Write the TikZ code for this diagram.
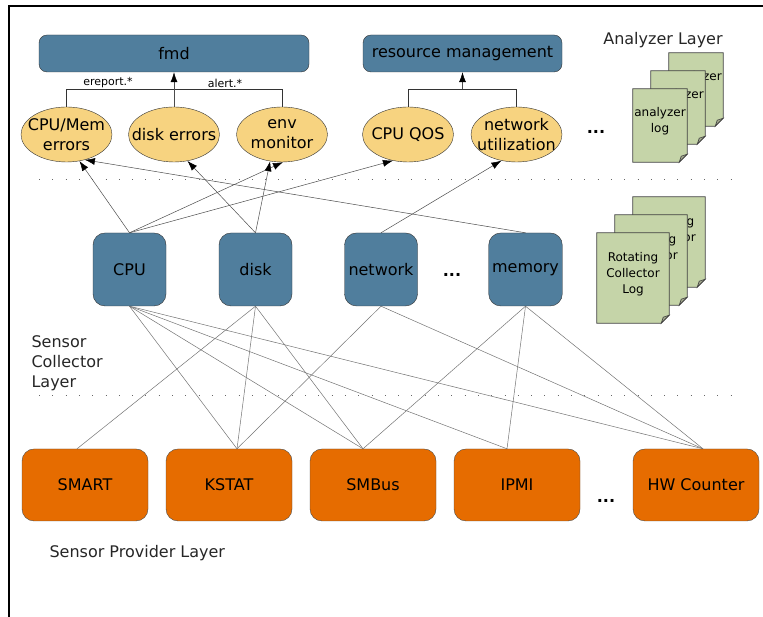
\documentclass[tikz,border=0pt]{standalone}
\usepackage{fontspec}
\setmainfont{DejaVu Sans}
\usepackage{tikz}
\usetikzlibrary{shapes,shapes.geometric}
\usetikzlibrary{arrows.meta}
\definecolor{boxblue}{RGB}{80,126,157}
\definecolor{evtyellow}{RGB}{247,211,128}
\definecolor{provorange}{RGB}{230,108,0}
\definecolor{loggreen}{RGB}{197,212,168}
\definecolor{foldgray}{RGB}{160,165,140}

\tikzset{
  daemon/.style={draw=black!80, fill=boxblue, rounded corners=8pt, minimum height=37pt, inner sep=0pt, font=\fontsize{16}{20}\selectfont},
  event/.style={ellipse, draw=black!80, fill=evtyellow, minimum width=91pt, minimum height=55pt, inner xsep=-14pt, inner ysep=0pt, align=center, font=\fontsize{16}{20}\selectfont},
  collector/.style={draw=black!80, fill=boxblue, rounded corners=12pt, minimum width=73pt, minimum height=73pt, font=\fontsize{16}{20}\selectfont},
  provider/.style={draw=black!70, fill=provorange, rounded corners=12pt, minimum width=126pt, minimum height=72pt, font=\fontsize{16}{20}\selectfont},
  sheet/.style={draw=black!75, fill=loggreen, line width=0.8pt},
  fold/.style={draw=black!75, fill=foldgray, line width=0.6pt},
  sheettext/.style={align=center, font=\fontsize{12}{16}\selectfont},
  feed/.style={draw=black!70, line width=0.5pt, -{Latex[length=10pt,width=7pt,color=black]}},
  bus/.style={draw=black!80, line width=0.8pt},
  wire/.style={draw=black!55, line width=0.5pt},
  tag/.style={font=\fontsize{11}{13}\selectfont},
  layer/.style={align=left, text=black!85, font=\fontsize{16}{20}\selectfont},
  more/.style={font=\bfseries\fontsize{16}{20}\selectfont},
  sep/.style={draw=black!60, line width=0.8pt, dash pattern=on 0.8pt off 12.5pt},
}

% one page of a log stack: name, centre, width, height, text
\newcommand{\logsheet}[5]{%
  \node[minimum width=#3, minimum height=#4, inner sep=0pt] (#1) at (#2) {};
  \filldraw[sheet] (#1.north west) -- (#1.north east) -- ([yshift=8pt]#1.south east)
    -- ([xshift=-8pt]#1.south east) -- (#1.south west) -- cycle;
  \filldraw[fold] ([yshift=8pt]#1.south east) -- ([xshift=-8pt]#1.south east)
    -- ([xshift=-6pt,yshift=6pt]#1.south east) -- cycle;
  \node[sheettext] (#1 text) at ([yshift=4pt]#1.center) {#5};
}

\begin{document}
\begin{tikzpicture}[x=10pt,y=10pt]
  \useasboundingbox (0,0) rectangle (76.3,61.7);
  \draw[line width=1.5pt] (0.9,0) -- (0.9,61.1) -- (76.3,61.1);

  \draw[sep] (3.9,43.8) -- (74,43.8);
  \draw[sep] (3.9,22.2) -- (74,22.2);

  % analyzer layer
  \node[daemon, minimum width=270pt] (fmd) at (17.4,56.35) {fmd};
  \node[daemon, minimum width=199pt] (resmgmt) at (46.25,56.35) {resource management};
  \node[layer] (analyzer layer) at (66.3,57.7) {Analyzer Layer};

  \node[event] (cpumem) at (6.65,48.25) {CPU/Mem\\errors};
  \node[event] (diskerr) at (17.4,48.25) {disk errors};
  \node[event] (envmon) at (28.2,48.25) {env\\monitor};
  \node[event] (cpuqos) at (40.8,48.25) {CPU QOS};
  \node[event] (netutil) at (51.65,48.25) {network\\utilization};
  \node[more] (analyzer more) at (59.6,48.5) {...};

  \coordinate (fmdbus) at (17.4,52.8);
  \coordinate (rmbus) at (46.25,52.8);
  \draw[bus] (cpumem.north) |- (fmdbus) -| (envmon.north);
  \draw[feed] (diskerr.north) -- (fmd.south);
  \draw[bus] (cpuqos.north) |- (rmbus) -| (netutil.north);
  \draw[feed] (rmbus) -- (resmgmt.south);
  \node[tag] (ereport) at (10.8,53.4) {ereport.*};
  \node[tag] (alert) at (22.5,53.4) {alert.*};

  \logsheet{alog3}{69.6,52.75}{54pt}{73pt}{analyzer\\log}
  \logsheet{alog2}{67.8,50.95}{54pt}{73pt}{analyzer\\log}
  \logsheet{alog1}{66.0,49.15}{54pt}{73pt}{analyzer\\log}

  % collector layer
  \node[collector] (cpu) at (12.95,34.75) {CPU};
  \node[collector] (disk) at (25.55,34.75) {disk};
  \node[collector] (network) at (38.1,34.75) {network};
  \node[collector] (memory) at (52.55,34.75) {memory};
  \node[more] (collector more) at (45.2,34.2) {...};
  \node[layer, anchor=west] (collector layer) at (2.8,25.4) {Sensor\\Collector\\Layer};

  \logsheet{clog3}{66.9,37.5}{72pt}{90pt}{Rotating\\Collector\\Log}
  \logsheet{clog2}{65.1,35.7}{72pt}{90pt}{Rotating\\Collector\\Log}
  \logsheet{clog1}{63.3,33.9}{72pt}{90pt}{Rotating\\Collector\\Log}

  \draw[feed] (cpu.north) -- (cpumem.-64);
  \draw[feed] (cpu.north) -- (envmon.-88);
  \draw[feed] (cpu.north) -- (cpuqos.-120);
  \draw[feed] (disk.north) -- (diskerr.-63);
  \draw[feed] (disk.north) -- (envmon.-114);
  \draw[feed] (network.north) -- (netutil.-120);
  \draw[feed] (memory.north) -- (cpumem.-54);

  % provider layer
  \node[provider] (smart) at (8.5,13.2) {SMART};
  \node[provider] (kstat) at (22.9,13.2) {KSTAT};
  \node[provider] (smbus) at (37.3,13.2) {SMBus};
  \node[provider] (ipmi) at (51.7,13.2) {IPMI};
  \node[provider] (hwcount) at (69.6,13.2) {HW Counter};
  \node[more] (provider more) at (60.6,11.6) {...};
  \node[layer, anchor=west] (provider layer) at (4.6,6.4) {Sensor Provider Layer};

  \coordinate (smart in) at ([xshift=-8pt]smart.north);
  \coordinate (kstat in) at ([xshift=8pt]kstat.north);
  \coordinate (smbus in) at ([xshift=-10pt]smbus.north);
  \coordinate (ipmi in) at ([xshift=-10pt]ipmi.north);
  \coordinate (hwcount in) at ([xshift=7pt]hwcount.north);

  \draw[wire] (cpu.south) -- (kstat in);
  \draw[wire] (cpu.south) -- (smbus in);
  \draw[wire] (cpu.south) -- (ipmi in);
  \draw[wire] (cpu.south) -- (hwcount in);
  \draw[wire] (disk.south) -- (smart in);
  \draw[wire] (disk.south) -- (kstat in);
  \draw[wire] (disk.south) -- (smbus in);
  \draw[wire] (network.south) -- (kstat in);
  \draw[wire] (network.south) -- (hwcount in);
  \draw[wire] (memory.south) -- (smbus in);
  \draw[wire] (memory.south) -- (ipmi in);
  \draw[wire] (memory.south) -- (hwcount in);
\end{tikzpicture}
\end{document}
